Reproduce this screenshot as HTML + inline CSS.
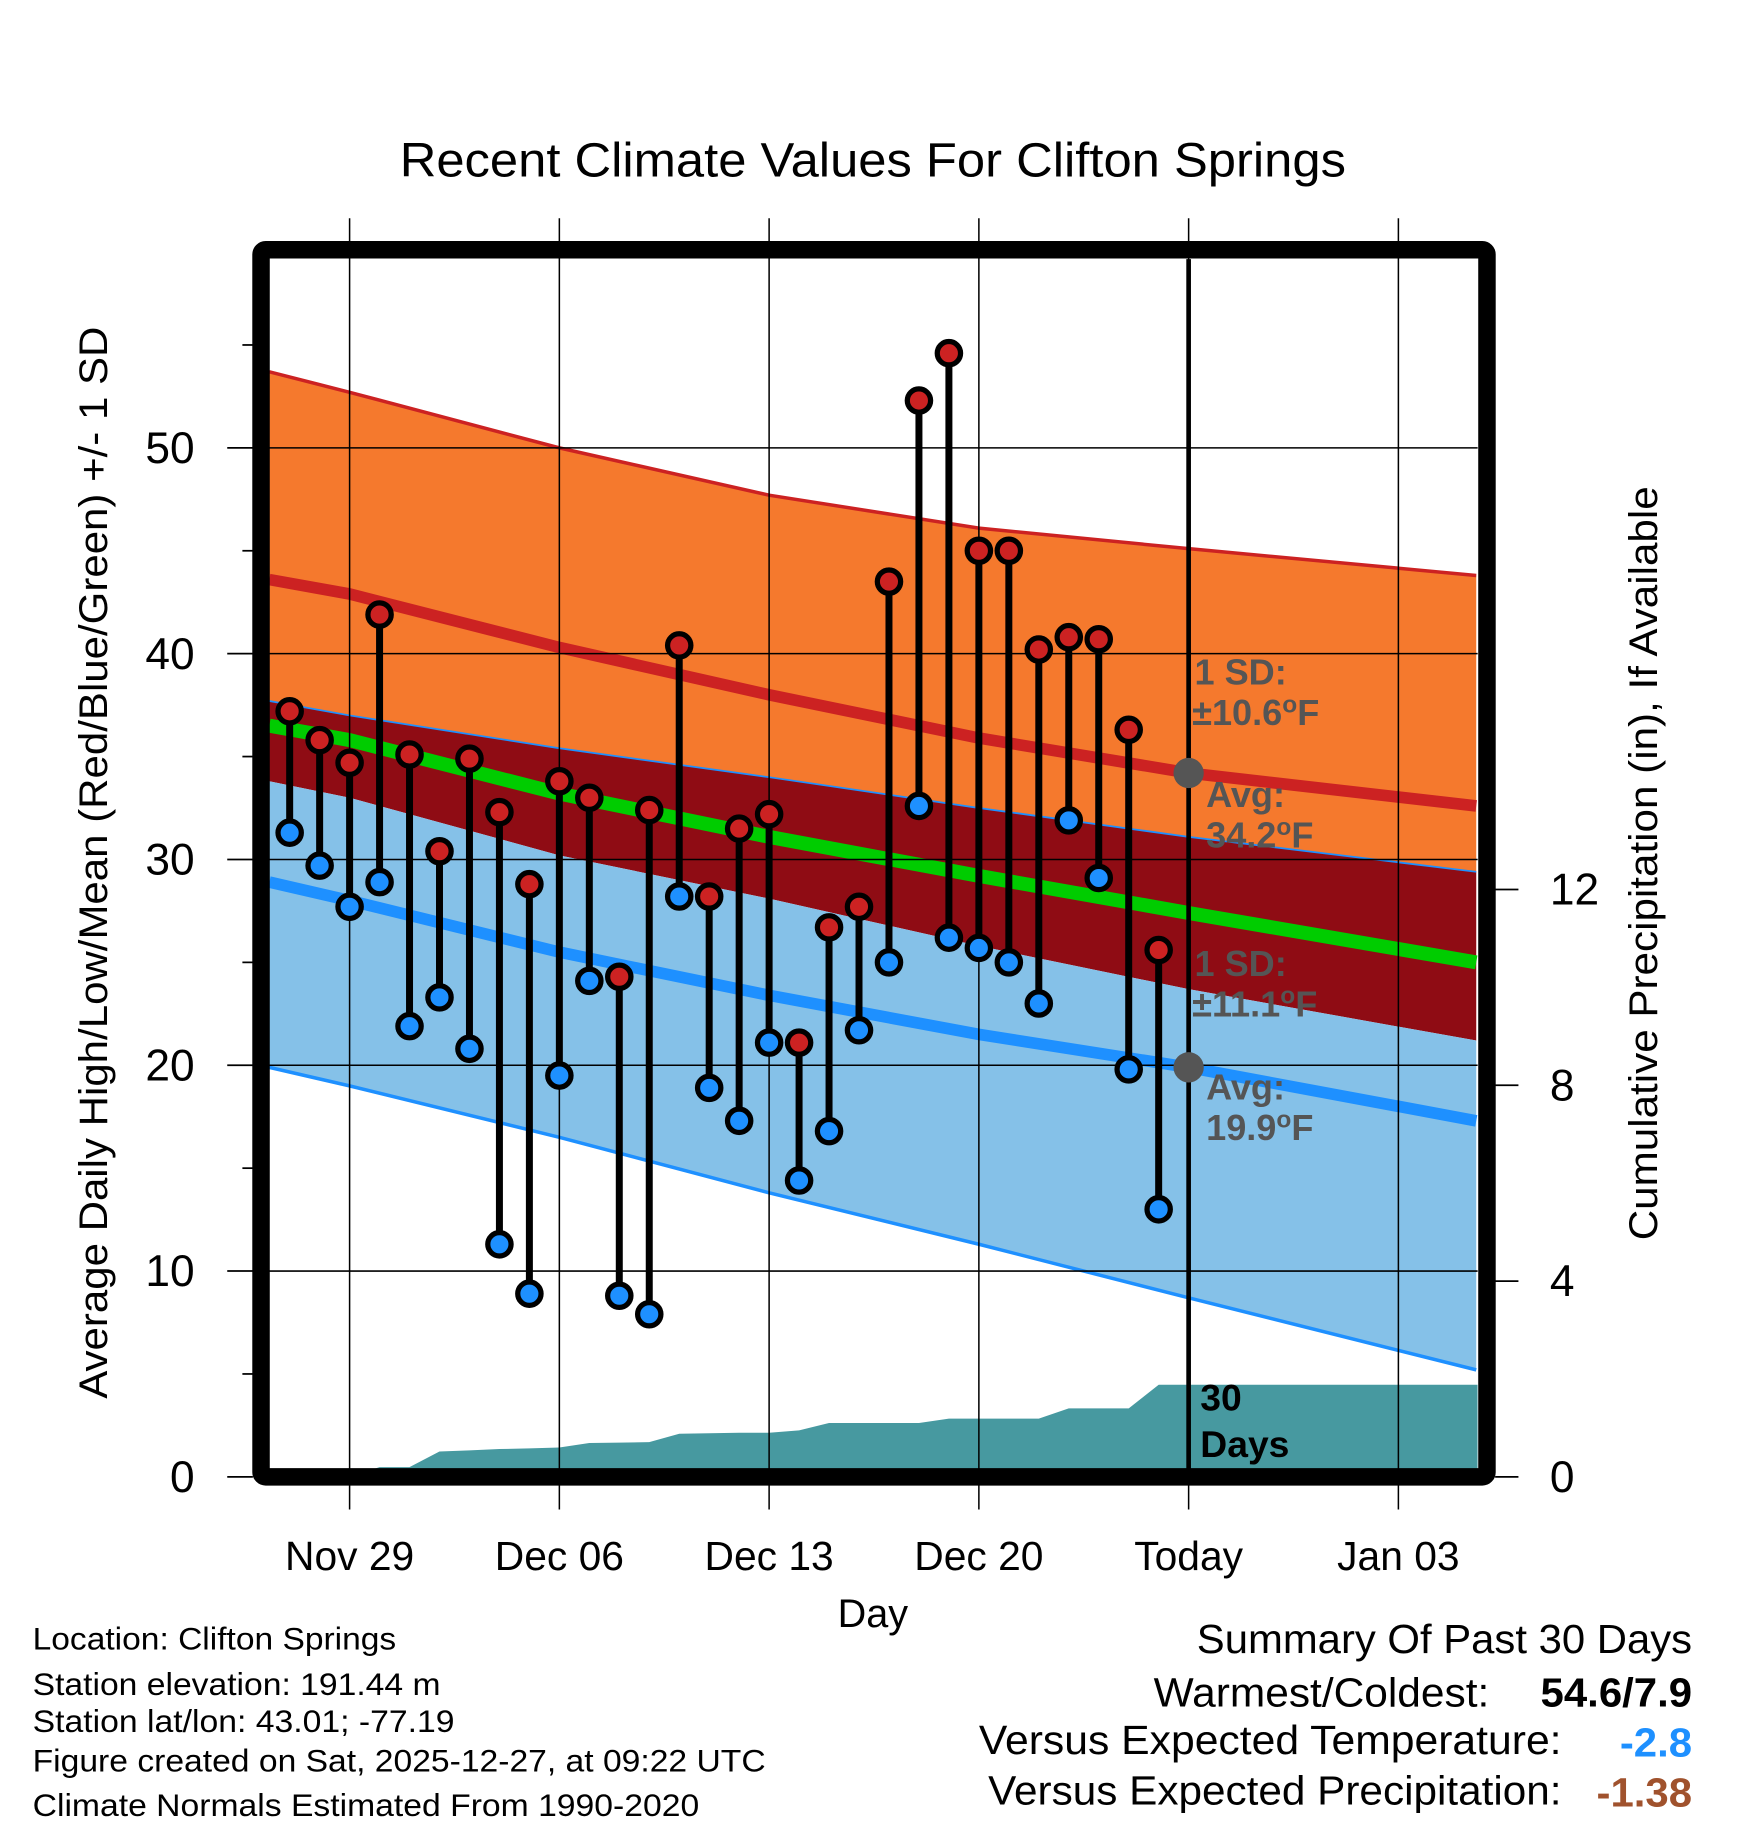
<!DOCTYPE html>
<html><head><meta charset="utf-8"><style>
html,body{margin:0;padding:0;background:#fff}
svg{display:block;font-family:"Liberation Sans",Arial,sans-serif}
</style></head><body>
<svg id="chart" width="1748" height="1828" viewBox="0 0 1500 1568" xmlns="http://www.w3.org/2000/svg">
<g id="g"></g>
</svg>
<script>
// Data
const days = [-2,-1,0,1,2,3,4,5,6,7,8,9,10,11,12,13,14,15,16,17,18,19,20,21,22,23,24,25,26,27]; // offset from Nov 29
const highs = [37.2,35.8,34.7,41.9,35.1,30.4,34.9,32.3,28.8,33.8,33.0,24.3,32.4,40.4,28.2,31.5,32.2,21.1,26.7,27.7,43.5,52.3,54.6,45.0,45.0,40.2,40.8,40.7,36.3,25.6];
const lows = [31.3,29.7,27.7,28.9,21.9,23.3,20.8,11.3,8.9,19.5,24.1,8.8,7.9,28.2,18.9,17.3,21.1,14.4,16.8,21.7,25.0,32.6,26.2,25.7,25.0,23.0,31.9,29.1,19.8,13.0];
const precip = [0,0,0,0.2,0.2,0.52,0.54,0.57,0.58,0.6,0.69,0.7,0.71,0.88,0.89,0.9,0.9,0.95,1.1,1.1,1.1,1.1,1.19,1.19,1.19,1.19,1.4,1.4,1.4,1.88];
const normDays = [-2.68,0,7,14,21,28,37.6];
const highPlusSD = [53.7,52.7,50.0,47.7,46.1,45.1,43.8];
const normHigh = [43.6,42.9,40.3,38.0,35.9,34.2,32.6];
const highMinusSD = [37.7,37.0,35.4,34.0,32.5,31.1,29.4];
const normMean = [36.5,35.8,33.2,31.1,29.2,27.4,25.0];
const lowPlusSD = [33.8,33.0,30.2,28.1,25.8,23.7,21.2];
const normLow = [28.9,28.0,25.5,23.4,21.5,19.9,17.3];
const lowMinusSD = [19.9,19.0,16.5,13.8,11.3,8.7,5.2];
const xTickDays = [0,7,14,21,28,35];
const xTickLabels = ["Nov 29","Dec 06","Dec 13","Dec 20","Today","Jan 03"];
const yTicks = [0,10,20,30,40,50];
const y2Ticks = [0,4,8,12];

const NS="http://www.w3.org/2000/svg";
const g=document.getElementById('g');
const L=231,R=1268,T=222,B=1260;
const X=d=>300+d*25.714;
const Y=v=>1267-v*17.66;
const Y2=v=>1267-v*42;
function el(tag,attrs,parent){const e=document.createElementNS(NS,tag);for(const k in attrs)e.setAttribute(k,attrs[k]);(parent||g).appendChild(e);return e;}
function txt(s,attrs){const e=el('text',attrs);e.textContent=s;return e;}
function fit(e,len){e.setAttribute('textLength',len);e.setAttribute('lengthAdjust','spacingAndGlyphs');}

const defs=el('defs',{});
const cp=el('clipPath',{id:'clip'},defs);el('rect',{x:L,y:T,width:R-L,height:B-T},cp);
const plot=el('g',{'clip-path':'url(#clip)'});



function pts(arr){return normDays.map((d,i)=>X(d).toFixed(1)+','+Y(arr[i]).toFixed(1));}
function band(top,bot,fill,name){
  const p=pts(top).concat(pts(bot).reverse()).join(' ');
  const e=el('polygon',{points:p,fill:fill},plot);
  
  
}
function line(arr,stroke,w,name){
  const e=el('polyline',{points:pts(arr).join(' '),fill:'none',stroke:stroke,'stroke-width':w},plot);
  
  
}
band(highPlusSD,highMinusSD,'#f5792d','high-sd-band');
band(highMinusSD,lowPlusSD,'#8f0c14','overlap-band');
band(lowPlusSD,lowMinusSD,'#85c1e8','low-sd-band');
line(highPlusSD,'#cc2222',3,'high-plus-sd-line');
line(normHigh,'#cc2222',10,'normal-high-line');
line(highMinusSD,'#1e90ff',1.5,'high-minus-sd-line');
line(normMean,'#00cc00',12,'normal-mean-line');
line(normLow,'#1e90ff',10,'normal-low-line');
line(lowMinusSD,'#1e90ff',3,'low-minus-sd-line');

{
  let p=[L+','+B, L+','+Y2(precip[0])];
  days.forEach((d,i)=>p.push(X(d).toFixed(1)+','+Y2(precip[i]).toFixed(1)));
  p.push(R+','+Y2(precip[precip.length-1]).toFixed(1));p.push(R+','+B);
  const e=el('polygon',{points:p.join(' '),fill:'#4799a0'},plot);
  
  
}

yTicks.slice(1).forEach(v=>{
  const e=el('line',{x1:L,x2:R,y1:Y(v),y2:Y(v),stroke:'#000','stroke-width':1.3});
  
  
});
xTickDays.forEach(d=>{
  const e=el('line',{x1:X(d),x2:X(d),y1:187,y2:1295,stroke:'#000','stroke-width':1.3});
  
  
});

{const e=el('line',{x1:X(28),x2:X(28),y1:T,y2:B,stroke:'#000','stroke-width':4});

}

days.forEach((d,i)=>{
  const s=el('line',{x1:X(d),x2:X(d),y1:Y(highs[i]),y2:Y(lows[i]),stroke:'#000','stroke-width':6});
  
  
});
days.forEach((d,i)=>{
  const h=el('circle',{cx:X(d),cy:Y(highs[i]),r:10,fill:'#cc2222',stroke:'#000','stroke-width':4.5});
  
  
  const l=el('circle',{cx:X(d),cy:Y(lows[i]),r:10,fill:'#1e90ff',stroke:'#000','stroke-width':4.5});
  
  
});

function ann(s,x,y,name,fill){const e=txt(s,{x:x,y:y,'font-size':31,'font-weight':'bold',fill:fill||'#555'});
return e;}
{const c=el('circle',{cx:X(28),cy:Y(normHigh[5]),r:13,fill:'#555'});
const c2=el('circle',{cx:X(28),cy:Y(normLow[5]),r:13,fill:'#555'});}
const deg='<tspan dy="-11" font-size="21">o</tspan><tspan dy="11">F</tspan>';
ann('1 SD:',1025,587,'high-sd-label');
ann('±10.6',1023,622,'high-sd-value').innerHTML='±10.6'+deg;
ann('Avg:',1035,692,'avg-high-label');
ann('34.2',1035,727,'avg-high-value').innerHTML='34.2'+deg;
ann('1 SD:',1025,837,'low-sd-label');
ann('±11.1',1023,872,'low-sd-value').innerHTML='±11.1'+deg;
ann('Avg:',1035,943,'avg-low-label');
ann('19.9',1035,978,'avg-low-value').innerHTML='19.9'+deg;
ann('30',1030,1210,'days-count','#000').setAttribute('font-size',32);
ann('Days',1030,1250,'days-label','#000').setAttribute('font-size',32);

{const f=el('rect',{x:224,y:214,width:1052,height:1053,fill:'none',stroke:'#000','stroke-width':15,rx:4});
}

for(let v=0;v<=55;v+=5){
  const major=v%10===0;
  const e=el('line',{x1:major?195:208,x2:217,y1:Y(v),y2:Y(v),stroke:'#000','stroke-width':1.5});
  
}
yTicks.forEach(v=>{
  const e=txt(String(v),{x:167,y:Y(v)+13,'font-size':38,'text-anchor':'end'});
  
});
y2Ticks.forEach(v=>{
  const t=el('line',{x1:1283,x2:1303,y1:Y2(v),y2:Y2(v),stroke:'#000','stroke-width':1.5});
  
  const e=txt(String(v),{x:1330,y:Y2(v)+13,'font-size':38});
  
});
xTickDays.forEach((d,i)=>{
  const e=txt(xTickLabels[i],{x:X(d),y:1347,'font-size':35,'text-anchor':'middle'});
  
});

{let e=txt('Recent Climate Values For Clifton Springs',{x:343,y:151,'font-size':41});
fit(e,812);

e=txt('Day',{x:749,y:1396,'font-size':34,'text-anchor':'middle'});

e=txt('Average Daily High/Low/Mean (Red/Blue/Green) +/- 1 SD',{x:-460,y:0,'font-size':34,transform:'translate(92,740) rotate(-90)'});
fit(e,920);

e=txt('Cumulative Precipitation (in), If Available',{x:-323,y:0,'font-size':34,transform:'translate(1422,741) rotate(-90)'});
fit(e,647);
}

const foot=['Location: Clifton Springs','Station elevation: 191.44 m','Station lat/lon: 43.01; -77.19','Figure created on Sat, 2025-12-27, at 09:22 UTC','Climate Normals Estimated From 1990-2020'];
const footY=[1415,1454,1486,1520,1558];
const footW=[312,350,362,629,572];
foot.forEach((s,i)=>{const e=txt(s,{x:28,y:footY[i],'font-size':27});fit(e,footW[i]);
});
function sum(s,x,w,y,name,extra){const a=Object.assign({x:x,y:y,'font-size':35},extra||{});const e=txt(s,a);fit(e,w);
}
sum('Summary Of Past 30 Days',1027,425,1418,'summary-title');
sum('Warmest/Coldest:',990,288,1464,'warmest-coldest-label');
sum('54.6/7.9',1322,130,1464,'warmest-coldest-value',{'font-weight':'bold'});
sum('Versus Expected Temperature:',840,500,1505,'temp-anomaly-label');
sum('-2.8',1390,62,1507,'temp-anomaly-value',{'font-weight':'bold',fill:'#1e90ff'});
sum('Versus Expected Precipitation:',848,492,1548,'precip-anomaly-label');
sum('-1.38',1370,82,1550,'precip-anomaly-value',{'font-weight':'bold',fill:'#a0522d'});
</script>
</body></html>
